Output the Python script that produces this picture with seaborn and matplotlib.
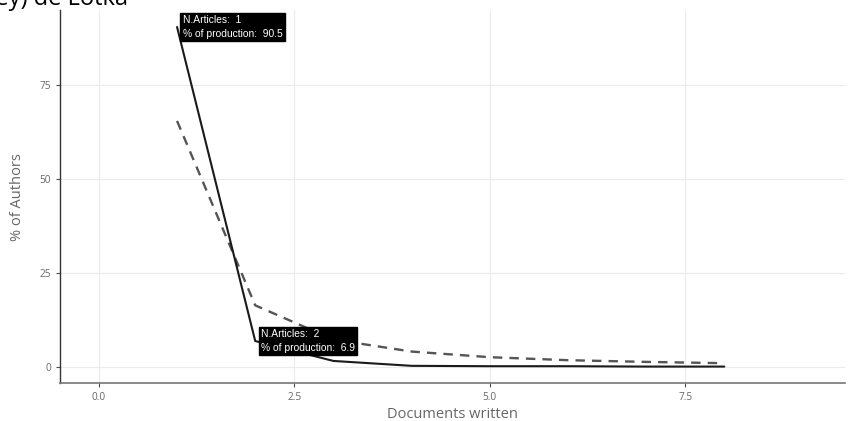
import numpy as np
import pandas as pd
import seaborn as sns
import matplotlib.pyplot as plt

# documents written per author
n_docs = [1, 2, 3, 4, 5, 6, 7, 8]
# observed % of authors
observed = [90.5, 6.9, 1.6, 0.3, 0.2, 0.2, 0.1, 0.1]
# theoretical (Lotka) % of authors
theoretical = [65.5, 16.4, 7.3, 4.1, 2.6, 1.8, 1.35, 1.0]
tip_points = [0, 1]

df = pd.DataFrame({"docs": n_docs, "observed": observed, "theoretical": theoretical})

sns.set_style("white")
plt.rcParams["font.family"] = ["Open Sans", "DejaVu Sans"]

fig = plt.figure(figsize=(8.54, 4.21), dpi=100)
ax = fig.add_axes([0.070, 0.090, 0.920, 0.886])

sns.lineplot(data=df, x="docs", y="theoretical", ax=ax, color="#555555",
             linewidth=1.7, linestyle=(0, (4, 3)))
sns.lineplot(data=df, x="docs", y="observed", ax=ax, color="#1a1a1a", linewidth=1.5)

for i in tip_points:
    ax.annotate("N.Articles:  %d\n%% of production:  %.1f" % (n_docs[i], observed[i]),
                xy=(n_docs[i], observed[i]), xytext=(4, 0), textcoords="offset points",
                va="center", ha="left", color="white", fontsize=7.4,
                family=["Liberation Sans", "DejaVu Sans"], linespacing=1.45,
                bbox=dict(boxstyle="square,pad=0.22", fc="black", ec="black"))

ax.set_xlim(-0.5, 9.55)
ax.set_ylim(-4.3, 95)
ax.set_xticks([0, 2.5, 5, 7.5])
ax.set_xticklabels(["0.0", "2.5", "5.0", "7.5"])
ax.set_yticks([0, 25, 50, 75])
ax.grid(True, color="#ebebeb", linewidth=0.8)
ax.tick_params(axis="both", length=3, width=0.8, colors="#4d4d4d", labelsize=7.3,
               direction="out", bottom=True, left=True, labelcolor="#666666")
for s in ["top", "right"]:
    ax.spines[s].set_visible(False)
ax.spines["left"].set_color("#333333")
ax.spines["left"].set_linewidth(1.0)
ax.spines["bottom"].set_color("#777777")
ax.spines["bottom"].set_linewidth(1.2)

ax.set_xlabel("Documents written", fontsize=10.5, color="#666666", labelpad=3)
ax.set_ylabel("% of Authors", fontsize=10.5, color="#666666", labelpad=10)

# title line cut by the top edge, as in the source screenshot
fig.text(128 / 854, 1 - 5 / 421, "(Ley) de Lotka", ha="right", va="baseline", fontsize=17, color="black")

fig.savefig("out.png", dpi=100)
